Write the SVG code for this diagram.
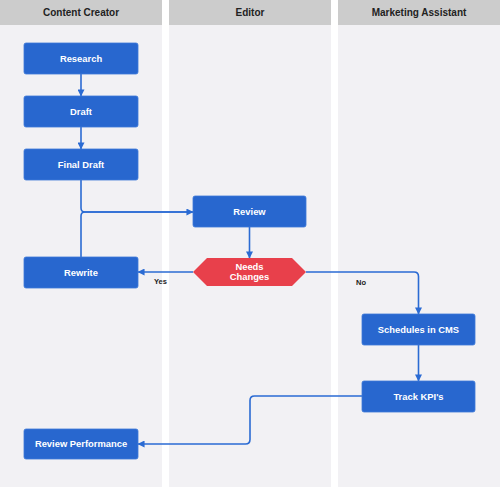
<svg xmlns="http://www.w3.org/2000/svg" width="500" height="487" viewBox="0 0 500 487">
<defs>
<style>
.lane{fill:#f2f1f4}
.hdr{fill:#cccccc}
.ht{font-family:"Liberation Sans",Arial,sans-serif;font-size:10px;font-weight:bold;fill:#222;text-anchor:middle}
.node{fill:#2867cf;stroke:#3d7ad8;stroke-width:0.8}
.nt{font-family:"Liberation Sans",Arial,sans-serif;font-size:9.4px;font-weight:bold;fill:#fff;text-anchor:middle}
.dec{fill:#e8404b}
.edge{fill:none;stroke:#2b6bd3;stroke-width:1.6}
.lbl{font-family:"Liberation Sans",Arial,sans-serif;font-size:7.5px;font-weight:bold;fill:#222}
</style>
<marker id="ah" viewBox="0 0 8 8" refX="7.5" refY="4" markerWidth="7" markerHeight="7" markerUnits="userSpaceOnUse" orient="auto">
<path d="M0,0 L8,4 L0,8 Z" fill="#2b6bd3"/>
</marker>
</defs>
<rect width="500" height="487" fill="#ffffff"/>
<g id="lanes">
<rect class="lane" x="0" y="0" width="162" height="487"/>
<rect class="lane" x="169" y="0" width="162" height="487"/>
<rect class="lane" x="338" y="0" width="162" height="487"/>
<rect class="hdr" x="0" y="0" width="162" height="25"/>
<rect class="hdr" x="169" y="0" width="162" height="25"/>
<rect class="hdr" x="338" y="0" width="162" height="25"/>
<text class="ht" x="81" y="15.5">Content Creator</text>
<text class="ht" x="250" y="15.5">Editor</text>
<text class="ht" x="419" y="15.5">Marketing Assistant</text>
</g>
<g id="connectors">
<path class="edge" d="M81,74 V96" marker-end="url(#ah)"/>
<path class="edge" d="M81,127 V149" marker-end="url(#ah)"/>
<path class="edge" d="M81,180 V208 Q81,212 85,212 H193" marker-end="url(#ah)"/>
<path class="edge" d="M81,257 V216 Q81,212 85,212 H193"/>
<path class="edge" d="M249.5,227 V258" marker-end="url(#ah)"/>
<path class="edge" d="M193,272 H138" marker-end="url(#ah)"/>
<path class="edge" d="M306,272 H414 Q418.5,272 418.5,276.5 V314" marker-end="url(#ah)"/>
<path class="edge" d="M418.5,345 V381" marker-end="url(#ah)"/>
<path class="edge" d="M362,396 H254.5 Q250,396 250,400.5 V439.5 Q250,444 245.5,444 H138" marker-end="url(#ah)"/>
<text class="lbl" x="154" y="284">Yes</text>
<text class="lbl" x="356" y="285">No</text>
</g>
<g id="research"><rect class="node" x="24" y="43" width="114" height="31" rx="2"/><text class="nt" x="81" y="61.8">Research</text></g>
<g id="draft"><rect class="node" x="24" y="96" width="114" height="31" rx="2"/><text class="nt" x="81" y="114.8">Draft</text></g>
<g id="final-draft"><rect class="node" x="24" y="149" width="114" height="31" rx="2"/><text class="nt" x="81" y="167.8">Final Draft</text></g>
<g id="review"><rect class="node" x="193" y="196" width="113" height="31" rx="2"/><text class="nt" x="249.5" y="214.8">Review</text></g>
<g id="needs-changes"><polygon class="dec" points="193,272 207,258 292,258 306,272 292,286 207,286"/><text class="nt" x="249.5" y="270">Needs</text><text class="nt" x="249.5" y="280">Changes</text></g>
<g id="rewrite"><rect class="node" x="24" y="257" width="114" height="31" rx="2"/><text class="nt" x="81" y="275.8">Rewrite</text></g>
<g id="schedules"><rect class="node" x="362" y="314" width="113" height="31" rx="2"/><text class="nt" x="418.5" y="332.8">Schedules in CMS</text></g>
<g id="track"><rect class="node" x="362" y="381" width="113" height="31" rx="2"/><text class="nt" x="418.5" y="399.8">Track KPI's</text></g>
<g id="review-performance"><rect class="node" x="24" y="429" width="114" height="30" rx="2"/><text class="nt" x="81" y="447.3">Review Performance</text></g>
</svg>
